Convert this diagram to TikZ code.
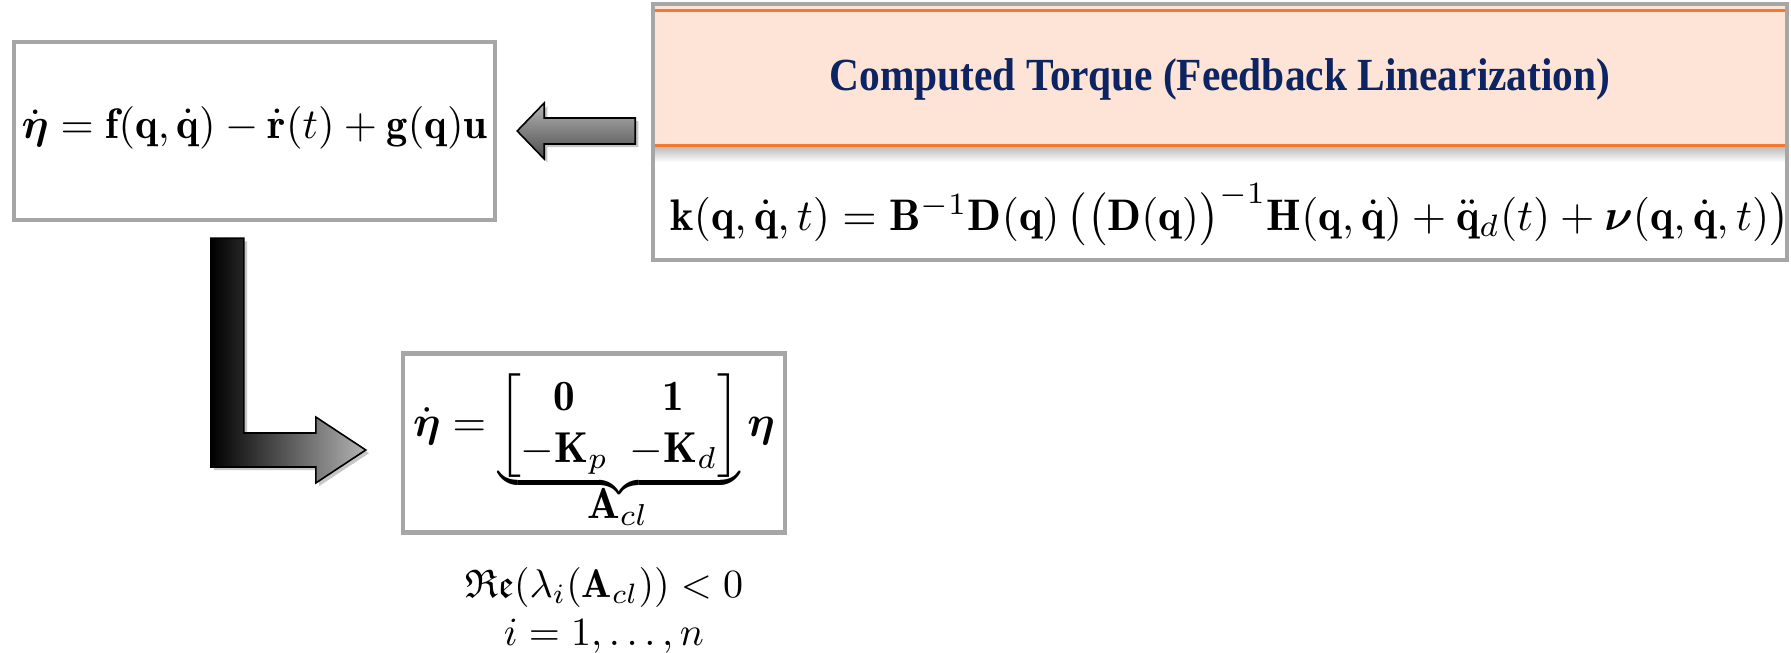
\documentclass[tikz,border=0pt]{standalone}
\usepackage{amsmath,amssymb}
\usepackage{fontspec}
\newfontfamily\titlefont{Liberation Serif}
\usetikzlibrary{calc}
\definecolor{boxgray}{RGB}{166,166,166}
\definecolor{headfill}{RGB}{253,228,214}
\definecolor{orangeline}{RGB}{244,120,48}
\definecolor{navy}{RGB}{12,36,97}
\definecolor{arrowlight}{RGB}{180,180,180}
\tikzset{
  boxline/.style={draw=boxgray, line width=1.1pt},
  eqbox/.style={boxline, fill=white, inner sep=0pt},
  eqtext/.style={inner sep=0pt, font=\normalsize},
  blockarrow/.style={draw=black, line width=0.4pt, line join=miter,
    preaction={fill=black, opacity=0.22, transform canvas={xshift=0.8pt, yshift=-0.8pt}}},
}
\begin{document}
\begin{tikzpicture}[x=0.25pt,y=-0.25pt]
\useasboundingbox (0,0) rectangle (1791,653);
% left box
\node[eqbox, minimum width=120.25pt, minimum height=44.5pt] (L) at (254.5,131) {};
\node[eqtext] (Ltext) at ($(L.center)+(0,-3)$)
  {\scalebox{1.065}{$\dot{\boldsymbol{\eta}} = \mathbf{f}(\mathbf{q},\dot{\mathbf{q}}) - \dot{\mathbf{r}}(t) + \mathbf{g}(\mathbf{q})\mathbf{u}$}};
% right box
\node[inner sep=0pt, minimum width=283pt, minimum height=63.5pt] (R) at (1220,132) {};
\fill[headfill] (R.north west) rectangle ($(R.north east)+(0,141)$);
\shade[top color=gray!55, bottom color=white] ($(R.north west)+(0,142)$) rectangle ($(R.north east)+(0,158)$);
\draw[orangeline, line width=0.8pt] ($(R.north west)+(0,6)$) -- ($(R.north east)+(0,6)$);
\draw[orangeline, line width=0.8pt] ($(R.north west)+(0,141)$) -- ($(R.north east)+(0,141)$);
\draw[boxline] (R.north west) rectangle (R.south east);
\node[inner sep=0pt, text=navy, font=\titlefont\bfseries\fontsize{11.5}{13}\selectfont] (title) at ($(R.north)+(0,75)$)
  {\scalebox{0.9}[1]{Computed Torque (Feedback Linearization)}};
\node[eqtext] (Rtext) at ($(R.south)+(10,-45)$)
  {\scalebox{1.105}{$\mathbf{k}(\mathbf{q},\dot{\mathbf{q}},t) = \mathbf{B}^{-1}\mathbf{D}(\mathbf{q})\,\big(\big(\mathbf{D}(\mathbf{q})\big)^{-1}\mathbf{H}(\mathbf{q},\dot{\mathbf{q}}) + \ddot{\mathbf{q}}_d(t) + \boldsymbol{\nu}(\mathbf{q},\dot{\mathbf{q}},t)\big)$}};
% bottom box
\node[eqbox, minimum width=95.5pt, minimum height=44.75pt] (B) at (594,443) {};
\node[eqtext, anchor=north] (Btext) at ($(B.north)+(0,22)$)
  {\scalebox{1.08}{\setlength{\arraycolsep}{2.5pt}$\displaystyle\dot{\boldsymbol{\eta}} = \underbrace{\raisebox{0pt}[\height][\dimexpr\depth-2.5pt\relax]{$\displaystyle\begin{bmatrix}\mathbf{0} & \mathbf{1}\\ -\mathbf{K}_p & -\mathbf{K}_d\end{bmatrix}$}}\boldsymbol{\eta}$}};
\node[eqtext] (Acl) at ($(B.south)+(24,-28)$) {\scalebox{1.08}{$\mathbf{A}_{cl}$}};
\node[eqtext, align=center, anchor=north] (cond) at ($(B.south)+(10,32)$)
  {$\mathfrak{Re}(\lambda_i(\mathbf{A}_{cl}))<0$\\[0pt] $i=1,\ldots,n$};
% left block arrow (from right box to left box)
\coordinate (a1) at ($(L.east)+(20,0)$);
\coordinate (a2) at ($(R.west)+(-18,-1)$);
\shade[blockarrow, top color=arrowlight, bottom color=black!70]
  (a1) -- ($(a1)+(27,-28)$) -- ($(a1)+(27,-13)$) -- (a2 |- {$(a1)+(0,-13)$}) -- (a2 |- {$(a1)+(0,13)$})
  -- ($(a1)+(27,13)$) -- ($(a1)+(27,28)$) -- cycle;
% L-shaped block arrow (from left box down to bottom box)
\coordinate (b0) at ($(L.south west)+(199,16)$);
\coordinate (b1) at ($(B.west)+(-35,7)$);
\shade[blockarrow, left color=black, right color=arrowlight]
  (b0) -- ($(b0)+(33,0)$) -- ($(b0 |- b1)+(33,-17)$) -- ($(b1)+(-50,-17)$) -- ($(b1)+(-50,-33)$)
  -- (b1) -- ($(b1)+(-50,33)$) -- ($(b1)+(-50,17)$) -- ($(b0 |- b1)+(0,17)$) -- cycle;
\end{tikzpicture}
\end{document}
